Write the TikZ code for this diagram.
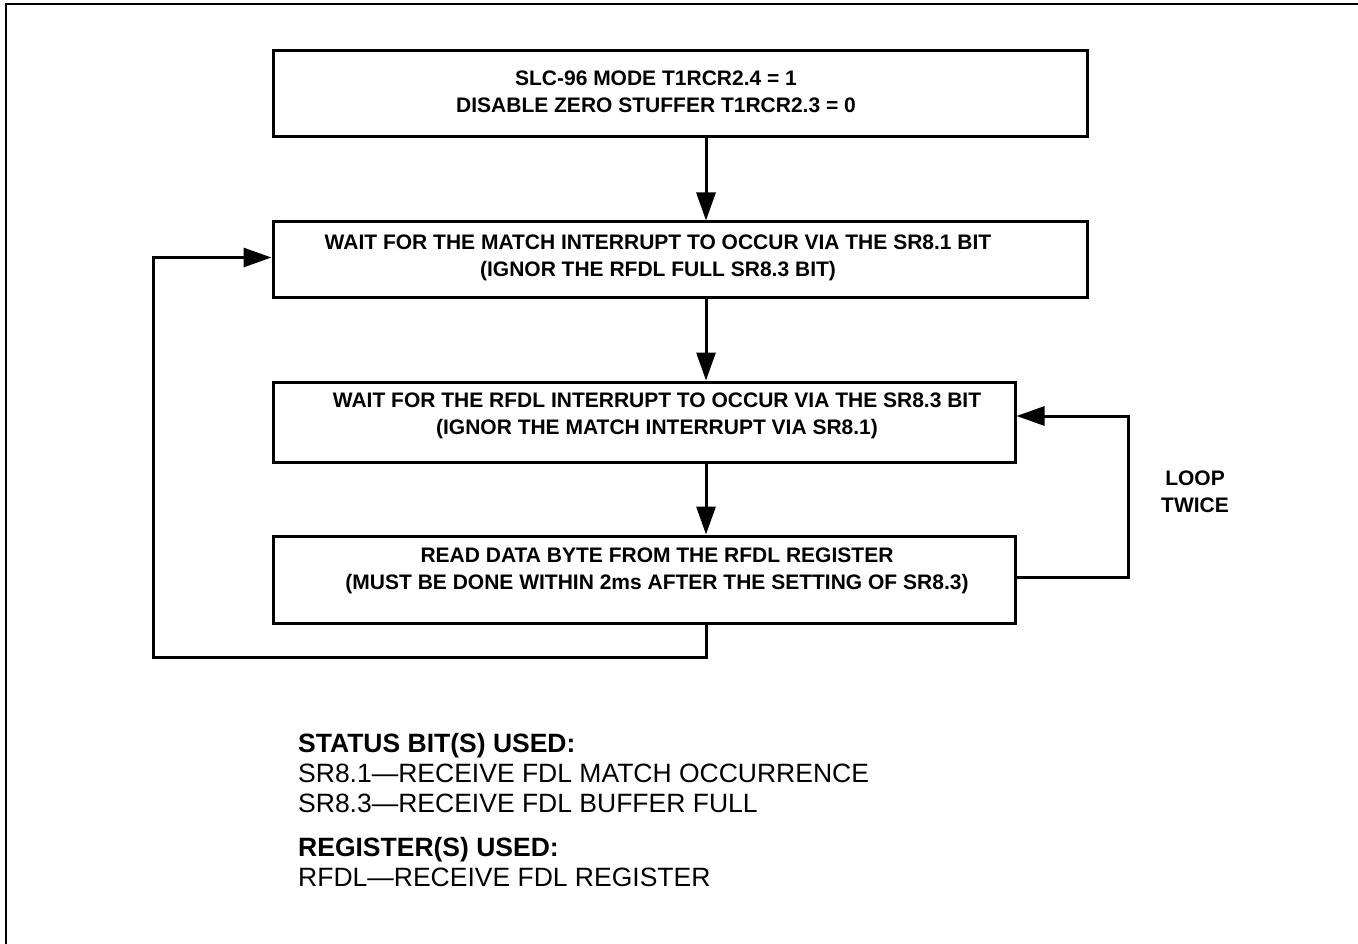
\documentclass[tikz,border=0pt]{standalone}
\usepackage{fontspec}
\setmainfont{Liberation Sans}
\usetikzlibrary{arrows.meta}
\begin{document}
\begin{tikzpicture}[x=1pt,y=-1pt,
  box/.style={draw,line width=3pt,inner sep=0pt},
  flowtext/.style={font=\fontsize{21}{27}\selectfont\bfseries,align=center,inner sep=0pt},
  notetext/.style={font=\fontsize{26.5}{30}\selectfont,align=left,anchor=north west,inner sep=0pt},
  arr/.style={line width=3pt,-{Triangle[length=28pt,width=19pt]}},
  conn/.style={line width=3pt}]
\useasboundingbox (0,0) rectangle (1358,944);
\draw[line width=2pt] (6,944) -- (6,4) -- (1358,4);

\node[box,minimum width=814pt,minimum height=86pt] (b1) at (680,94) {};
\node[box,minimum width=814pt,minimum height=75pt] (b2) at (680,259.5) {};
\node[box,minimum width=742pt,minimum height=80pt] (b3) at (644,422) {};
\node[box,minimum width=742pt,minimum height=87pt] (b4) at (644,579.5) {};

\node[flowtext] (t1) at (656,92) {SLC-96 MODE T1RCR2.4 = 1\\DISABLE ZERO STUFFER T1RCR2.3 = 0};
\node[flowtext] (t2) at (658,258) {WAIT FOR THE MATCH INTERRUPT TO OCCUR VIA THE SR8.1 BIT\\(IGNOR THE RFDL FULL SR8.3 BIT)};
\node[flowtext] (t3) at (657,416) {WAIT FOR THE RFDL INTERRUPT TO OCCUR VIA THE SR8.3 BIT\\(IGNOR THE MATCH INTERRUPT VIA SR8.1)};
\node[flowtext] (t4) at (657,571) {READ DATA BYTE FROM THE RFDL REGISTER\\(MUST BE DONE WITHIN 2ms AFTER THE SETTING OF SR8.3)};

\node[flowtext] (lt) at (1195,492) {LOOP\\TWICE};

\coordinate (ax) at (706,0);
\coordinate (ll) at (153,657);
\coordinate (rl) at (1128,0);

\draw[arr] (b1.south -| ax) -- (b2.north -| ax);
\draw[arr] (b2.south -| ax) -- (b3.north -| ax);
\draw[arr] (b3.south -| ax) -- (b4.north -| ax);
\draw[arr] (b4.south -| ax) |- (ll) |- ([yshift=2pt]b2.west);
\draw[arr] ([yshift=2pt]b4.east) -- ([yshift=2pt]b4.east -| rl) -- ([yshift=6pt]b3.east -| rl) -- ([yshift=6pt]b3.east);

\node[notetext] (n1) at (298,733) {\textbf{STATUS BIT(S) USED:}\\SR8.1—RECEIVE FDL MATCH OCCURRENCE\\SR8.3—RECEIVE FDL BUFFER FULL};
\node[notetext] (n2) at (298,837) {\textbf{REGISTER(S) USED:}\\RFDL—RECEIVE FDL REGISTER};
\end{tikzpicture}
\end{document}
